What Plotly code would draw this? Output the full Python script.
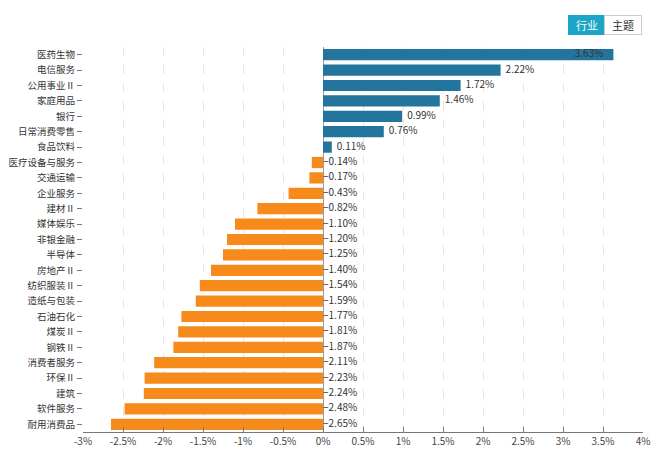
import plotly.graph_objects as go

categories = ["医药生物", "电信服务", "公用事业Ⅱ", "家庭用品", "银行", "日常消费零售", "食品饮料",
              "医疗设备与服务", "交通运输", "企业服务", "建材Ⅱ", "媒体娱乐", "非银金融", "半导体",
              "房地产Ⅱ", "纺织服装Ⅱ", "造纸与包装", "石油石化", "煤炭Ⅱ", "钢铁Ⅱ", "消费者服务",
              "环保Ⅱ", "建筑", "软件服务", "耐用消费品"]
values = [3.63, 2.22, 1.72, 1.46, 0.99, 0.76, 0.11, -0.14, -0.17, -0.43, -0.82, -1.10, -1.20,
          -1.25, -1.40, -1.54, -1.59, -1.77, -1.81, -1.87, -2.11, -2.23, -2.24, -2.48, -2.65]
tick_vals = [-3, -2.5, -2, -1.5, -1, -0.5, 0, 0.5, 1, 1.5, 2, 2.5, 3, 3.5, 4]
tick_text = ["-3%", "-2.5%", "-2%", "-1.5%", "-1%", "-0.5%", "0%", "0.5%", "1%", "1.5%",
             "2%", "2.5%", "3%", "3.5%", "4%"]
buttons = ["行业", "主题"]

BLUE = "#23759d"
ORANGE = "#f68a1a"
FONT = "Noto Sans CJK SC, sans-serif"

colors = [BLUE if v >= 0 else ORANGE for v in values]
label_x = [v if v > 0 else 0 for v in values]
label_pos = ["middle left" if v > 3.5 else "middle right" for v in values]
labels = []
for v in values:
    s = ("\u2212" if v < 0 else "") + f"{abs(v):.2f}%"
    labels.append(s + "\u2002\u2002" if v > 3.5 else ("\u2002" + s if v > 0 else s))

fig = go.Figure()
fig.add_trace(go.Bar(
    x=values, y=categories, orientation="h",
    marker=dict(color=colors, line=dict(width=0)),
    hoverinfo="skip",
))
fig.add_trace(go.Scatter(
    x=label_x, y=categories, mode="text", text=labels,
    textposition=label_pos,
    textfont=dict(size=10, color="#333333", family=FONT),
    hoverinfo="skip", cliponaxis=False,
))

fig.update_layout(
    width=661, height=457,
    margin=dict(l=75, r=26, t=39, b=33, autoexpand=False),
    paper_bgcolor="white", plot_bgcolor="white",
    showlegend=False, bargap=0.27,
    font=dict(family=FONT, size=10, color="#333333"),
    xaxis=dict(
        range=[-3, 4], tickvals=tick_vals, ticktext=tick_text,
        showgrid=True, gridcolor="#e6e6e6", griddash="dash", gridwidth=1,
        zeroline=True, zerolinecolor="#9a9a9a", zerolinewidth=1,
        showline=True, linecolor="#777777", linewidth=1,
        ticks="inside", ticklen=5, tickcolor="#777777",
        tickfont=dict(size=10, color="#444444", family=FONT),
        fixedrange=True, automargin=False,
    ),
    yaxis=dict(
        range=[len(categories) - 0.5, -0.5], showgrid=False, zeroline=False, showline=False,
        ticks="outside", ticklen=5, tickcolor="#777777",
        tickfont=dict(size=9.5, color="#333333", family=FONT),
        fixedrange=True, automargin=False,
    ),
)

# UI toggle buttons (top right)
fig.add_annotation(xref="paper", yref="paper", x=0.9, y=1.057, text=buttons[0],
                   showarrow=False, bgcolor="#1ba6c8", bordercolor="#1ba6c8", borderwidth=1,
                   width=34, height=16, font=dict(color="white", size=11, family=FONT),
                   xanchor="center", yanchor="middle")
fig.add_annotation(xref="paper", yref="paper", x=0.9643, y=1.057, text=buttons[1],
                   showarrow=False, bgcolor="white", bordercolor="#cccccc", borderwidth=1,
                   width=34, height=16, font=dict(color="#333333", size=11, family=FONT),
                   xanchor="center", yanchor="middle")

fig.write_html("out.html")
